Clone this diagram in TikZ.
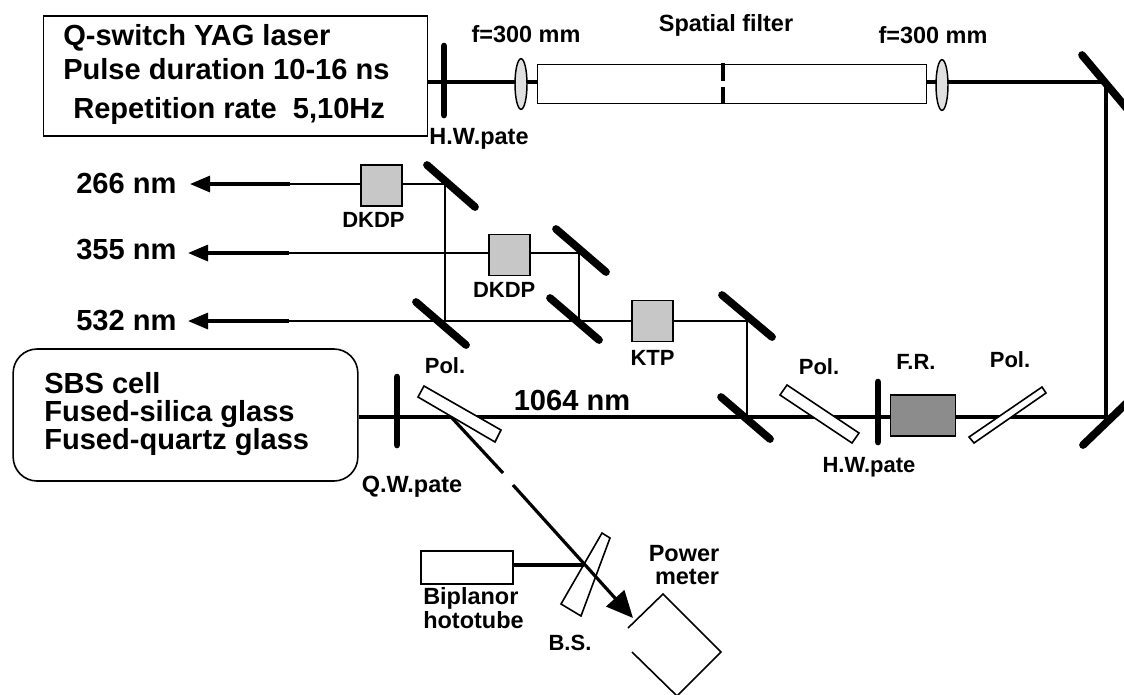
\documentclass[tikz,border=0pt]{standalone}
\usepackage{fontspec}
\setmainfont{Liberation Sans}
\usetikzlibrary{arrows.meta, positioning, calc, shapes.geometric}
\newcommand{\bigfont}{\fontsize{21.8}{24}\selectfont\bfseries}
\newcommand{\smallfont}{\fontsize{16.5}{20}\selectfont\bfseries}
\newcommand{\widefont}{\fontsize{17.6}{20}\selectfont\bfseries}
\tikzset{
  thinbeam/.style={line width=1.2pt},
  thickbeam/.style={line width=2.4pt},
  mirror/.style={line width=5.8pt, line cap=round},
  plate/.style={line width=5pt, line cap=round},
  crystal/.style={draw, line width=1.2pt, inner sep=0pt, minimum size=31pt, fill=black!22},
  tag/.style={font=\smallfont, inner sep=0pt},
  widetag/.style={font=\widefont, inner sep=0pt},
  wavelabel/.style={font=\bigfont, inner sep=0pt},
  lens/.style={ellipse, draw, line width=1.1pt, fill=black!12, inner sep=0pt, minimum width=9pt, minimum height=38pt},
  optic/.style={draw, line width=1.2pt, fill=white}
}
\begin{document}
\begin{tikzpicture}[>=Stealth, x=0.75pt, y=-0.75pt, font=\smallfont]
  \useasboundingbox (0,0) rectangle (1124,694);

  % laser and spatial filter
  \node[draw, line width=1.2pt, inner sep=0pt, minimum width=288pt, minimum height=90pt] (laser) at (235.5,76) {};
  \node[wavelabel, anchor=west] (qswitch) at (63,38) {Q-switch YAG laser};
  \node[wavelabel, anchor=west] (pulse) at (63,69) {Pulse duration 10-16 ns};
  \node[wavelabel, anchor=west] (rep) at (73,111) {Repetition rate\ \ 5,10Hz};
  \node[draw, line width=1.2pt, inner sep=0pt, minimum width=292pt, minimum height=29.5pt] (tube) at (732,84) {};
  \coordinate (mtop) at (1106,82);
  \coordinate (mbot) at (1106,417);
  \draw[thickbeam] (laser.east |- mtop) -- (tube.west |- mtop);
  \draw[thickbeam] (tube.east |- mtop) -- (mtop) -- (mbot);
  \draw[plate] (444,46) -- (444,115);
  \node[lens] (lensa) at (521,84) {};
  \node[lens] (lensb) at (942,85) {};
  \draw[thickbeam] (723,63) -- (723,81);
  \draw[thickbeam] (723,87) -- (723,104);
  \node[widetag, fill=white, inner sep=1pt] (hwa) at (479,139) {H.W.pate};
  \node[widetag] (fa) at (526,34) {f=300 mm};
  \node[widetag] (filter) at (726,25) {Spatial filter};
  \node[widetag] (fb) at (933,35) {f=300 mm};

  % harmonics
  \coordinate (m266) at (445,184);
  \coordinate (m355) at (579,253);
  \coordinate (m532) at (747,321);
  \coordinate (s532) at (579,321);
  \coordinate (t532) at (445,321);
  \coordinate (m1064) at (747,417);
  \node[crystal] (dkdpa) at (381.5,185.5) {};
  \node[crystal] (dkdpb) at (509.5,255) {};
  \node[crystal] (ktp) at (652.5,321) {};
  \node[tag, below=4pt of dkdpa, xshift=-6pt] (dkdpalab) {DKDP};
  \node[tag, below=4pt of dkdpb, xshift=-4pt] (dkdpblab) {DKDP};
  \node[tag, below=6pt of ktp] (ktplab) {KTP};
  \node[wavelabel, anchor=west] (l266) at (76,183) {266 nm};
  \node[wavelabel, anchor=west] (l355) at (76,250) {355 nm};
  \node[wavelabel, anchor=west] (l532) at (76,321) {532 nm};
  \coordinate (a266) at (290,184);
  \coordinate (a355) at (289,253);
  \coordinate (a532) at (289,321);
  \coordinate (e266) at (190,184);
  \coordinate (e355) at (188,253);
  \coordinate (e532) at (188,321);
  \draw[thinbeam] (a266) -- (dkdpa.west |- a266);
  \draw[thinbeam] (dkdpa.east |- m266) -- (m266) -- (t532);
  \draw[thinbeam] (a355) -- (dkdpb.west |- a355);
  \draw[thinbeam] (dkdpb.east |- m355) -- (m355) -- (s532);
  \draw[thinbeam] (a532) -- (ktp.west);
  \draw[thinbeam] (ktp.east) -- (m532) -- (m1064);
  \foreach \from/\to in {a266/e266, a355/e355, a532/e532}
    \draw[thickbeam, -{Triangle[length=15pt, width=12pt]}] (\from) -- (\to);
  \draw[mirror] (427,165) -- (475,207);
  \draw[mirror] (556,229) -- (606,272);
  \draw[mirror] (416,302) -- (466,345);
  \draw[mirror] (550,298) -- (599,340);
  \draw[mirror] (722,295) -- (772,337);
  \draw[mirror] (721,397) -- (770,439);
  \draw[mirror] (1082,55) -- (1134,117);
  \draw[mirror] (1083,445) -- (1134,396);

  % main beam and cell
  \node[draw, rounded corners=18pt, line width=1.2pt, inner sep=0pt, minimum width=258.5pt, minimum height=99pt] (sbs) at (185.5,415) {};
  \node[wavelabel, anchor=west] (sbsa) at (44,383) {SBS cell};
  \node[wavelabel, anchor=west] (sbsb) at (44,414) {Fused-silica glass};
  \node[wavelabel, anchor=west] (sbsc) at (44,442) {Fused-quartz glass};
  \node[wavelabel] (l1064) at (572,400) {1064 nm};
  \draw[thickbeam] (sbs.east |- mbot) -- (mbot);
  \draw[plate] (397,377) -- (397,445);
  \draw[plate] (878,382) -- (878,442);
  \node[crystal, fill=black!45, minimum width=49pt, minimum height=31pt] (fr) at (923,415.5) {};
  \draw[optic] (424,386) -- (501,430) -- (495,442) -- (418,397) -- cycle;
  \draw[optic] (787,385) -- (859,433) -- (852,443) -- (780,395) -- cycle;
  \draw[optic] (1042,387) -- (1046,393) -- (974,443) -- (969,437) -- cycle;
  \node[tag] (pola) at (445,366) {Pol.};
  \node[tag] (polb) at (819,367) {Pol.};
  \node[tag] (frlab) at (916,362) {F.R.};
  \node[tag] (polc) at (1010,360) {Pol.};
  \node[tag] (hwb) at (869,467) {H.W.pate};
  \node[widetag] (qw) at (412,487) {Q.W.pate};

  % diagnostics
  \coordinate (pbeam) at (452,418);
  \coordinate (gapa) at (503,473);
  \coordinate (gapb) at (513,485);
  \coordinate (ptip) at (633,618);
  \node[draw, line width=1.2pt, inner sep=0pt, minimum width=69pt, minimum height=25pt] (bipl) at (467,567.5) {};
  \coordinate (bsp) at (584,565);
  \draw[thickbeam] (pbeam) -- (gapa);
  \draw[thickbeam, -{Triangle[length=20pt, width=18pt]}] (gapb) -- (ptip);
  \draw[thickbeam] (bipl.east |- bsp) -- (bsp);
  \draw[line width=1.2pt] (602,533) -- (610,538) -- (581,616) -- (561,604) -- cycle;
  \draw[line width=1.2pt] (628,628) -- (663,594) -- (721,652) -- (677,696) -- (632,652);
  \node[widetag, anchor=west] (biplab) at (423,598) {Biplanor};
  \node[widetag, anchor=west] (hotolab) at (423,620) {hototube};
  \node[tag] (bslab) at (570,643) {B.S.};
  \node[widetag] (powera) at (684,554) {Power};
  \node[widetag] (powerb) at (687,577) {meter};
\end{tikzpicture}
\end{document}
